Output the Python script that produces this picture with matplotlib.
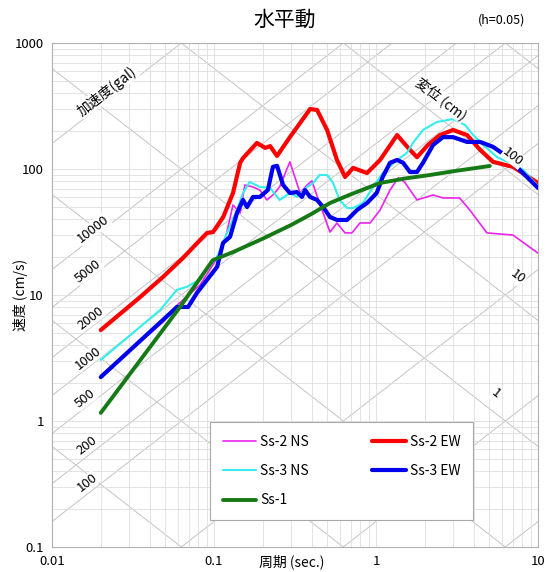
import numpy as np
import matplotlib
matplotlib.use('Agg')
import matplotlib.pyplot as plt
from matplotlib.ticker import FixedLocator, FixedFormatter, LogLocator, NullFormatter

plt.rcParams['font.family'] = ['Noto Sans CJK JP', 'DejaVu Sans']

# period (sec.) / pseudo velocity (cm/s)
ss2_ns_t = [0.02, 0.0484, 0.0591, 0.082, 0.101, 0.117, 0.131, 0.145, 0.155, 0.174, 0.192, 0.212, 0.231,
            0.254, 0.294, 0.340, 0.375, 0.402, 0.448, 0.520, 0.574, 0.644, 0.71, 0.796, 0.92, 1.06, 1.22,
            1.37, 1.50, 1.79, 2.25, 2.59, 3.28, 3.79, 4.84, 7.01, 10.0]
ss2_ns_v = [2.3, 6.1, 8.3, 12, 18.3, 27.3, 51.8, 44.8, 74.6, 72, 68, 56.8, 62.2,
            72, 114, 64.5, 74.6, 80.4, 53.7, 31.6, 37.3, 31.1, 31.1, 37.3, 37.3, 47.3, 68,
            84.9, 78.9, 56.8, 62.2, 58.9, 58.9, 47.3, 31.1, 29.9, 21.5]

ss2_ew_t = [0.02, 0.0349, 0.0484, 0.0644, 0.082, 0.0906, 0.0987, 0.114, 0.131, 0.145, 0.151, 0.184,
            0.207, 0.222, 0.245, 0.294, 0.340, 0.392, 0.433, 0.499, 0.574, 0.644, 0.722, 0.880, 1.06,
            1.35, 1.58, 1.79, 2.09, 2.48, 2.99, 3.65, 4.39, 5.27, 7.01, 10.0]
ss2_ew_v = [5.27, 9.6, 13.9, 19.7, 27.3, 31.1, 31.6, 41.6, 64.5, 112, 122, 161,
            147, 152, 127, 179, 232, 299, 294, 204, 118, 86.4, 102, 92.9, 118,
            186, 147, 124, 155, 186, 204, 186, 142, 114, 104, 77.4]

ss3_ns_t = [0.02, 0.0465, 0.0591, 0.0681, 0.0785, 0.1045, 0.1203, 0.1387, 0.151, 0.166, 0.192, 0.222,
            0.254, 0.294, 0.325, 0.375, 0.410, 0.448, 0.499, 0.544, 0.596, 0.662, 0.722, 0.83, 0.96,
            1.10, 1.35, 1.55, 1.69, 1.95, 2.37, 2.99, 3.55, 3.98, 4.6, 5.6, 6.7, 8.1, 10.0]
ss3_ns_v = [3.05, 7.6, 11, 11.6, 12.9, 20, 31, 47.3, 64.5, 78.9, 72, 70.7,
            56.8, 64.5, 60, 72, 77.4, 89.6, 89.6, 77.4, 56.8, 49, 49, 53.7, 72,
            92.9, 118, 134, 161, 204, 236, 249, 223, 186, 155, 124, 112, 98, 73.3]

ss3_ew_t = [0.02, 0.0591, 0.0692, 0.0785, 0.0906, 0.1045, 0.1137, 0.1256, 0.1387, 0.151, 0.160, 0.174,
            0.192, 0.215, 0.231, 0.245, 0.267, 0.294, 0.325, 0.349, 0.365, 0.392, 0.433, 0.471, 0.520,
            0.574, 0.662, 0.692, 0.764, 0.880, 1.01, 1.10, 1.22, 1.35, 1.47, 1.62, 1.79, 1.95, 2.25,
            2.59, 2.99, 3.65, 4.39, 5.27, 6.25, 7.74, 10.0]
ss3_ew_v = [2.23, 8.03, 8.03, 10.4, 13.2, 16.7, 25.9, 28.9, 44.8, 56.8, 49.9, 60,
            60, 68.1, 104, 106, 74.6, 64.5, 65.6, 60, 68, 60, 56.8, 49.9, 41.6,
            39.4, 39.4, 41.6, 47.3, 53.7, 64.5, 86.4, 112, 118, 112, 94.6, 94.6, 112, 155,
            179, 179, 164, 164, 150, 129, 98, 70.7]

ss1_t = [0.02, 0.0617, 0.0681, 0.0983, 0.131, 0.2, 0.3, 0.4, 0.52, 0.7, 1.06, 1.5, 2.15, 3.0, 5.04]
ss1_v = [1.16, 8.03, 9.64, 18.9, 21.9, 28, 36, 44, 53.7, 63, 77.4, 84, 89.6, 96, 105.7]

# tripartite guide lines
acc_lines = [0.1, 1, 10, 100, 200, 500, 1000, 2000, 5000, 10000, 100000]   # gal
disp_lines = [0.001, 0.01, 0.1, 1, 10, 100, 1000]                          # cm

acc_labels = ['10000', '5000', '2000', '1000', '500', '200', '100']
acc_label_t = [0.0180, 0.0167, 0.0174, 0.0167, 0.0160, 0.0164, 0.0164]
acc_label_v = [33.4, 15.5, 6.57, 3.16, 1.50, 0.634, 0.322]

disp_labels = ['100', '10', '1']
disp_label_t = [7.01, 7.45, 5.47]
disp_label_v = [124, 13.9, 1.64]

fig = plt.figure(figsize=(5.55, 5.72), dpi=100)
ax = fig.add_axes([52/555, 1-547/572, 486/555, 504/572])
ax.set_xscale('log')
ax.set_yscale('log')
ax.set_xlim(0.01, 10)
ax.set_ylim(0.1, 1000)

ax.xaxis.set_major_locator(FixedLocator([0.01, 0.1, 1, 10]))
ax.xaxis.set_major_formatter(FixedFormatter(['0.01', '0.1', '1', '10']))
ax.yaxis.set_major_locator(FixedLocator([0.1, 1, 10, 100, 1000]))
ax.yaxis.set_major_formatter(FixedFormatter(['0.1', '1', '10', '100', '1000']))
for a in (ax.xaxis, ax.yaxis):
    a.set_minor_locator(LogLocator(base=10, subs=np.arange(2, 10)))
    a.set_minor_formatter(NullFormatter())
ax.tick_params(which='both', length=0, labelsize=9.5, pad=6)
ax.grid(which='both', color='#dedede', lw=0.6, zorder=0)
for s in ax.spines.values():
    s.set_color('#b0b0b0')
    s.set_linewidth(0.8)

tt = np.logspace(-2, 1, 60)
for a in acc_lines:
    ax.plot(tt, a*tt/(2*np.pi), color='#c4c4c4', lw=0.7, zorder=1)
for d in disp_lines:
    ax.plot(tt, 2*np.pi*d/tt, color='#c4c4c4', lw=0.7, zorder=1)

kw = dict(solid_joinstyle='round', solid_capstyle='round')
ax.plot(ss2_ns_t, ss2_ns_v, color='#ee22ee', lw=1.2, zorder=3, label='Ss-2 NS', **kw)
ax.plot(ss2_ew_t, ss2_ew_v, color='#ff0000', lw=3.0, zorder=4, label='Ss-2 EW', **kw)
ax.plot(ss3_ns_t, ss3_ns_v, color='#33eeee', lw=1.5, zorder=5, label='Ss-3 NS', **kw)
ax.plot(ss3_ew_t, ss3_ew_v, color='#0000ee', lw=3.0, zorder=6, label='Ss-3 EW', **kw)
ax.plot(ss1_t, ss1_v, color='#157a15', lw=2.8, zorder=7, label='Ss-1', **kw)

# angle of a slope-1 line on screen
ang = np.degrees(np.arctan((504/4) / (486/3)))
wb = dict(facecolor='white', edgecolor='none', pad=0.5)
for s, t, v in zip(acc_labels, acc_label_t, acc_label_v):
    ax.text(t, v, s, rotation=ang, ha='center', va='center', fontsize=9.5, bbox=wb, zorder=8)
for s, t, v in zip(disp_labels, disp_label_t, disp_label_v):
    ax.text(t, v, s, rotation=-ang, ha='center', va='center', fontsize=9.5, bbox=wb, zorder=8)
ax.text(0.0219, 416, '加速度(gal)', rotation=ang, ha='center', va='center', fontsize=10, bbox=wb, zorder=8)
ax.text(2.52, 360, '変位 (cm)', rotation=-ang, ha='center', va='center', fontsize=10, bbox=wb, zorder=8)

h, l = ax.get_legend_handles_labels()
order = [0, 2, 4, 1, 3]
leg = ax.legend([h[i] for i in order], [l[i] for i in order], ncol=2, mode='expand',
                loc='lower left', bbox_to_anchor=(0.311, 0.040, 0.570, 0.196),
                fontsize=10, handlelength=2.4, handletextpad=0.3, labelspacing=1.1,
                borderpad=0.9, columnspacing=3.0, fancybox=False, framealpha=1)
leg.get_frame().set_edgecolor('#a8a8a8')
leg.get_frame().set_linewidth(0.8)
leg.set_zorder(9)

fig.text(285/555, 1-20/572, '水平動', ha='center', va='center', fontsize=15)
fig.text(502/555, 1-20/572, '(h=0.05)', ha='center', va='center', fontsize=9)
fig.text(20/555, 1-295/572, '速度 (cm/s)', ha='center', va='center', rotation=90, fontsize=10)
fig.text(292/555, 1-562/572, '周期 (sec.)', ha='center', va='center', fontsize=10)

fig.savefig('out.png', dpi=100)
